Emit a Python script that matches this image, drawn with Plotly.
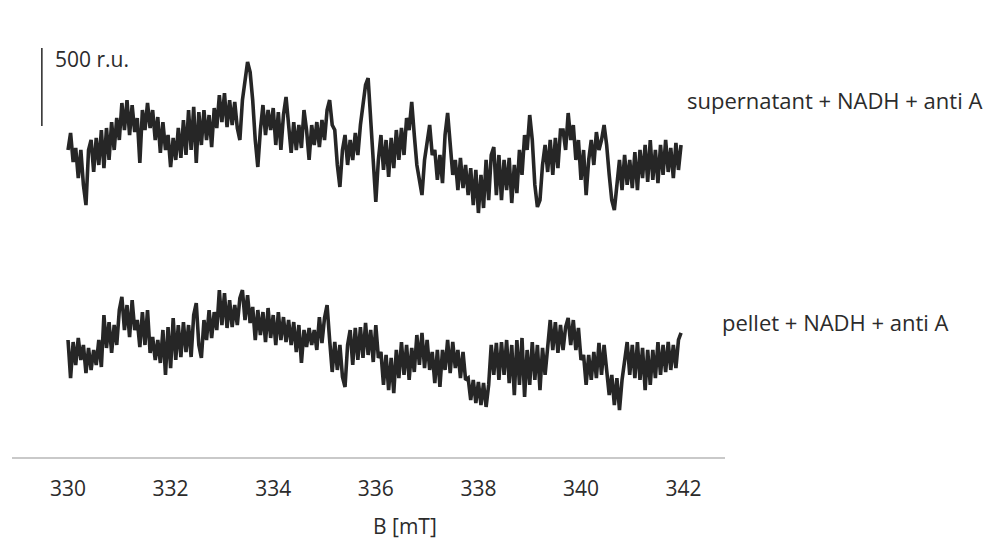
import numpy as np
import plotly.graph_objects as go

# Magnetic field grid (mT)
B_START = 330.0
B_STEP = 0.05
N_POINTS = 240
field_mT = B_START + B_STEP * np.arange(N_POINTS)

# Signal intensities (r.u.), stacked spectra as displayed
supernatant_ru = [
    1968, 2077, 1891, 1981, 1788, 1968, 1744, 1615, 1968, 2032,
    1827, 2045, 1872, 2096, 1852, 2109, 1904, 2147, 1968, 2173,
    2032, 2269, 2096, 2288, 2064, 2256, 2083, 2173, 1885, 2224,
    2096, 2269, 2109, 2224, 2032, 2179, 1949, 2147, 1968, 2064,
    1859, 2045, 1904, 2109, 1917, 2160, 1936, 2224, 1968, 2244,
    1885, 2211, 2000, 2224, 2032, 2192, 1987, 2237, 2109, 2320,
    2147, 2333, 2115, 2288, 2128, 2276, 2109, 2032, 2288, 2417,
    2532, 2468, 2288, 2032, 1859, 2096, 2256, 2064, 2224, 2096,
    2237, 2000, 2211, 1968, 2192, 2308, 2096, 1949, 2147, 1968,
    2128, 1981, 2224, 2096, 1904, 2128, 2000, 2147, 1987, 2160,
    2032, 2224, 2288, 2128, 2096, 1872, 1731, 1968, 2064, 1872,
    2032, 1904, 2077, 1936, 2128, 2256, 2385, 2429, 2160, 1872,
    1635, 1904, 2064, 1840, 2032, 1795, 2045, 1852, 2096, 1904,
    2109, 1936, 2173, 2096, 2276, 2064, 1872, 1776, 1679, 1904,
    2032, 2128, 1936, 1968, 1776, 1936, 1756, 2064, 2205, 2032,
    1808, 1904, 1711, 1917, 1724, 1872, 1679, 1852, 1615, 1840,
    1564, 1808, 1596, 1904, 1647, 1936, 1987, 1679, 1936, 1647,
    1904, 1711, 1917, 1628, 1872, 1692, 1968, 1808, 2064, 1968,
    2192, 2032, 1744, 1603, 1647, 1872, 2000, 1827, 2032, 1808,
    2045, 1852, 2096, 2096, 1968, 2205, 2032, 2128, 1904, 2032,
    1776, 1968, 1679, 1904, 2032, 1872, 2083, 1968, 2032, 2128,
    2000, 1808, 1647, 1583, 1776, 1904, 1711, 1936, 1744, 1904,
    1724, 1955, 1711, 1968, 1788, 2000, 1763, 2032, 1776, 1968,
    1756, 2000, 1808, 2032, 1827, 1981, 1788, 2013, 1840, 2000,
]

pellet_ru = [
    750, 506, 737, 590, 763, 622, 718, 538, 699, 558,
    686, 590, 750, 577, 910, 699, 865, 667, 846, 718,
    942, 1026, 814, 974, 769, 1006, 814, 878, 705, 929,
    718, 942, 667, 769, 622, 750, 603, 814, 526, 833,
    570, 891, 622, 846, 641, 865, 673, 846, 641, 910,
    987, 718, 635, 878, 750, 942, 763, 929, 814, 1070,
    846, 1051, 827, 1006, 833, 974, 846, 1019, 1070, 878,
    1038, 859, 962, 750, 942, 782, 929, 737, 955, 763,
    910, 718, 929, 750, 897, 737, 878, 718, 865, 673,
    846, 603, 814, 705, 827, 718, 814, 686, 897, 731,
    891, 974, 750, 545, 737, 558, 718, 513, 449, 718,
    814, 590, 827, 622, 833, 635, 859, 654, 814, 609,
    846, 635, 673, 462, 654, 429, 635, 410, 686, 506,
    737, 526, 718, 494, 699, 545, 782, 590, 795, 570,
    750, 558, 673, 474, 686, 449, 686, 558, 750, 538,
    737, 570, 686, 506, 673, 494, 506, 365, 494, 346,
    481, 333, 474, 321, 462, 718, 526, 731, 494, 737,
    526, 750, 474, 718, 397, 750, 462, 763, 385, 686,
    462, 737, 494, 718, 429, 699, 526, 686, 878, 686,
    865, 667, 846, 686, 833, 891, 718, 878, 686, 827,
    622, 654, 462, 654, 494, 673, 506, 731, 526, 718,
    545, 397, 526, 333, 506, 301, 494, 622, 737, 526,
    718, 506, 737, 494, 699, 429, 686, 462, 686, 506,
    737, 526, 718, 545, 737, 558, 718, 570, 750, 795,
]

series_labels = ["supernatant + NADH + anti A", "pellet + NADH + anti A"]
tick_values = [330, 332, 334, 336, 338, 340, 342]
tick_labels = ["330", "332", "334", "336", "338", "340", "342"]
SCALE_BAR_RU = 500
axis_title = "B [mT]"

FONT = "Open Sans"
TEXT_COLOR = "#2b2b2b"
LINE_COLOR = "#262626"

fig = go.Figure()
for y in (supernatant_ru, pellet_ru):
    fig.add_trace(go.Scatter(
        x=field_mT, y=y, mode="lines",
        line=dict(color=LINE_COLOR, width=3.6),
        showlegend=False, hoverinfo="skip",
    ))

# scale bar (500 r.u.)
bar_x = 329.49
bar_y0 = 2122
fig.add_shape(type="line", xref="x", yref="y",
              x0=bar_x, x1=bar_x, y0=bar_y0, y1=bar_y0 + SCALE_BAR_RU,
              line=dict(color="#262626", width=1.5))
fig.add_annotation(x=329.71, y=2551, xref="x", yref="y",
                   text=f"{SCALE_BAR_RU} r.u.", showarrow=False,
                   xanchor="left", yanchor="middle",
                   font=dict(family=FONT, size=21, color=TEXT_COLOR))

# series labels
fig.add_annotation(x=342.03, y=2288, xref="x", yref="y",
                   text=series_labels[0], showarrow=False,
                   xanchor="left", yanchor="middle",
                   font=dict(family=FONT, size=22, color=TEXT_COLOR))
fig.add_annotation(x=342.71, y=865, xref="x", yref="y",
                   text=series_labels[1], showarrow=False,
                   xanchor="left", yanchor="middle",
                   font=dict(family=FONT, size=22, color=TEXT_COLOR))

# axis title
fig.add_annotation(x=336.57, y=-0.165, xref="x", yref="paper",
                   text=axis_title, showarrow=False,
                   xanchor="center", yanchor="middle",
                   font=dict(family=FONT, size=21, color=TEXT_COLOR))

fig.update_layout(
    width=995, height=541,
    margin=dict(l=12, r=270, t=40, b=84),
    plot_bgcolor="white", paper_bgcolor="white",
    font=dict(family=FONT, size=21, color=TEXT_COLOR),
    xaxis=dict(
        range=[328.908, 342.807],
        tickvals=tick_values, ticktext=tick_labels,
        showline=True, linecolor="#c9c9c9", linewidth=1.5,
        showgrid=False, zeroline=False, ticks="",
        ticklabelstandoff=12,
        tickfont=dict(family=FONT, size=21, color=TEXT_COLOR),
    ),
    yaxis=dict(range=[0, 2673], visible=False, showgrid=False, zeroline=False),
)

fig.write_html("out.html", config={"displayModeBar": False},
               post_script="document.body.style.margin='0px';")
